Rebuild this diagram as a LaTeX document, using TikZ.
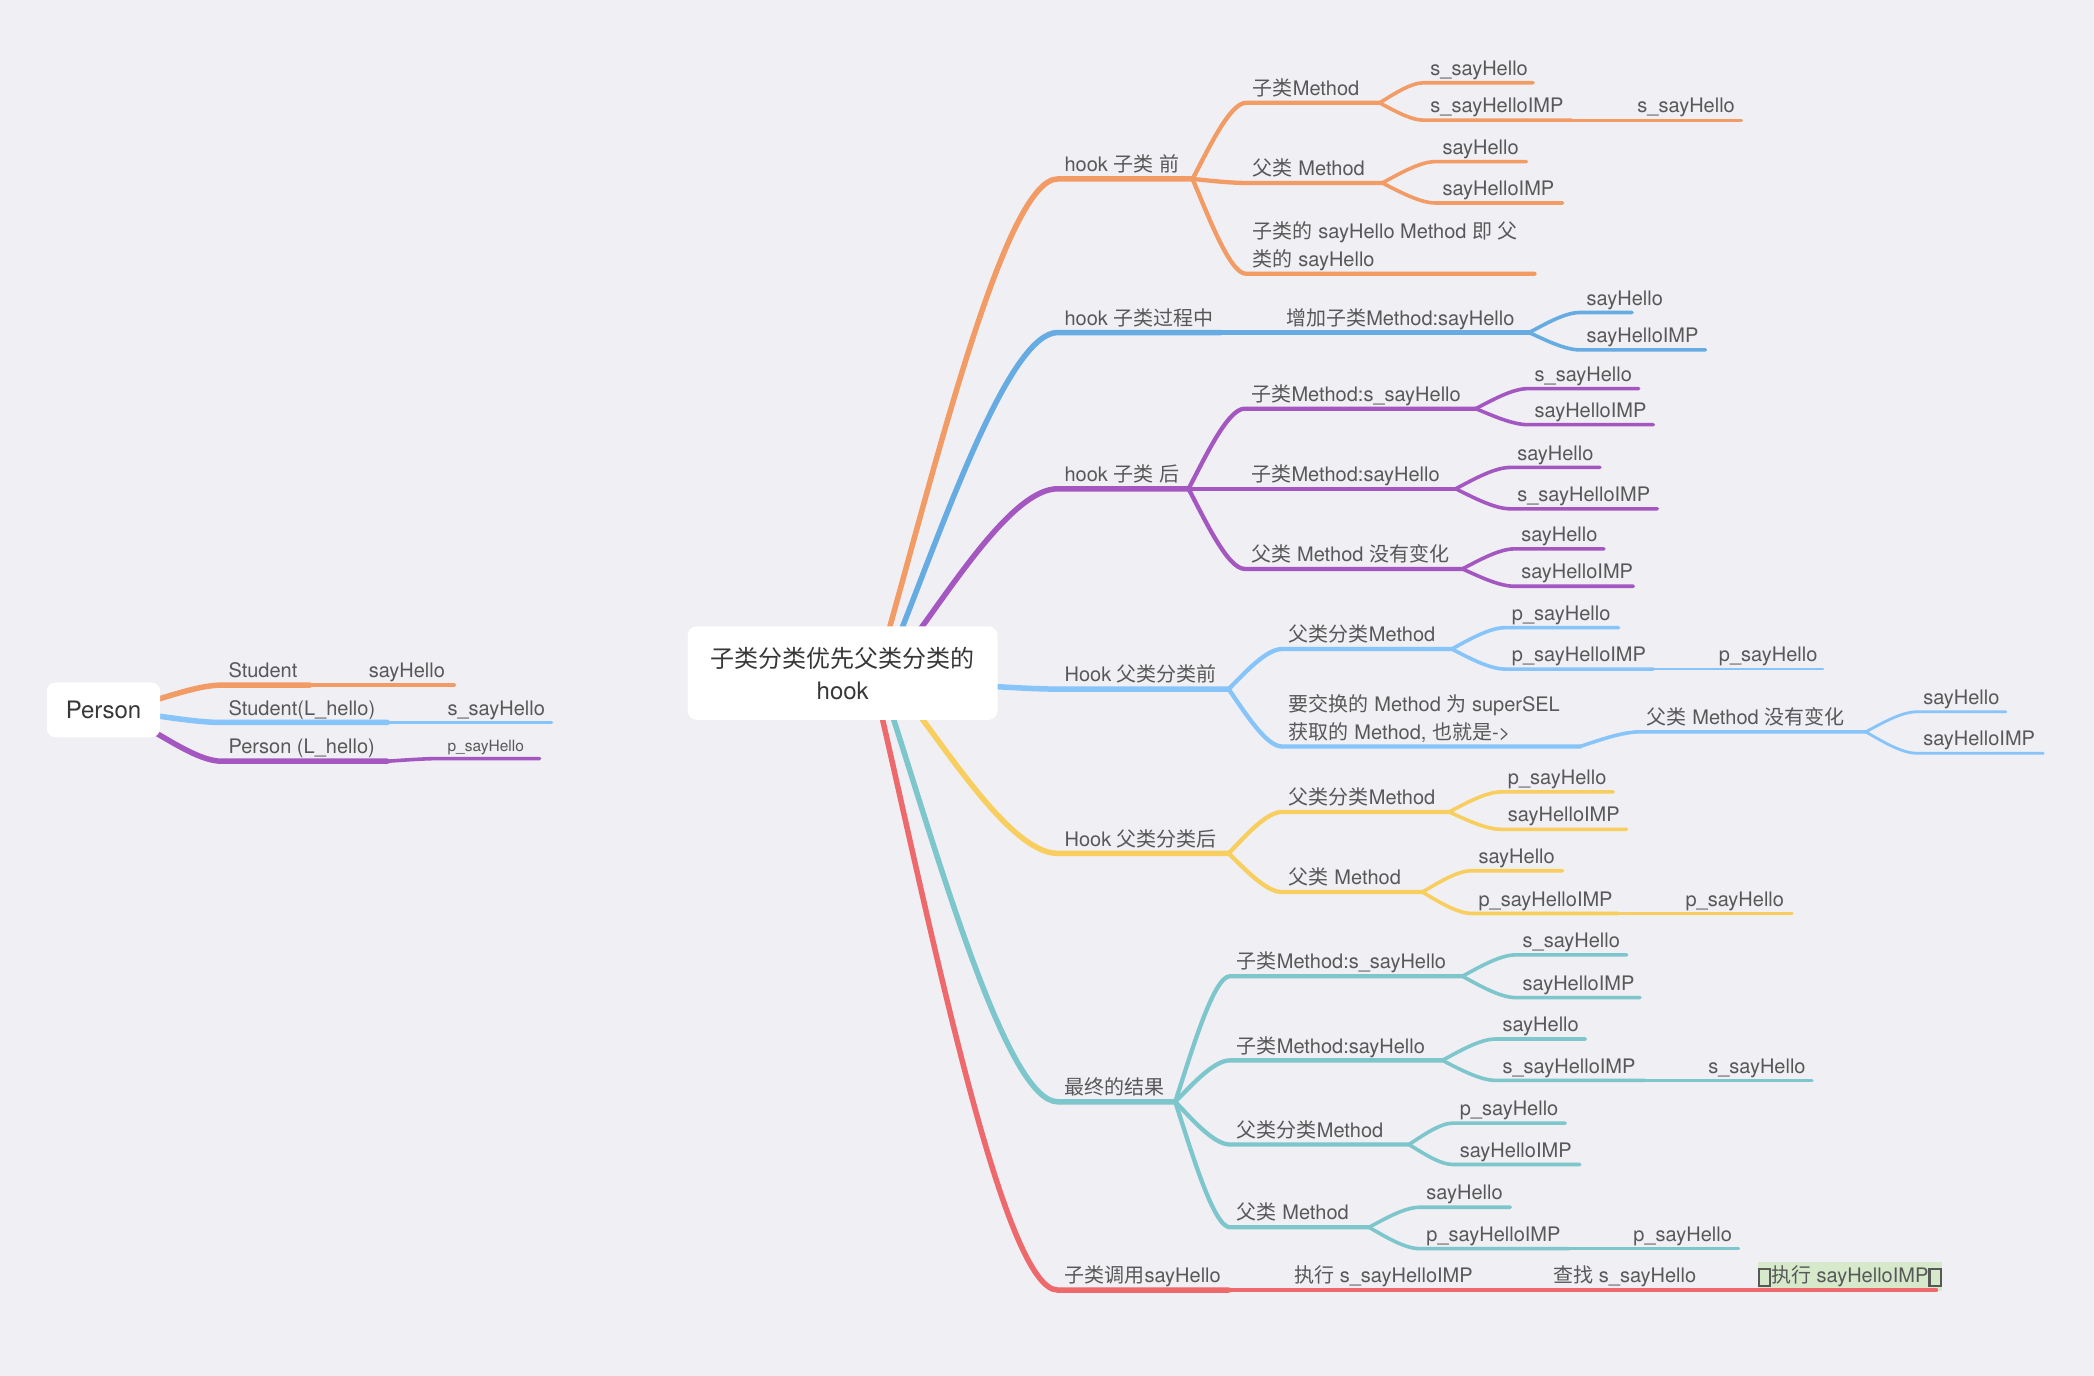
\documentclass[tikz,border=0pt]{standalone}
\usepackage{fontspec}
\setmainfont{TeX Gyre Heros}
\newfontfamily\cjk{Noto Sans CJK SC}
\makeatletter
\count@="3000
\loop \XeTeXcharclass\count@=7 \ifnum\count@<"303F \advance\count@ 1 \repeat
\count@="4E00
\loop \XeTeXcharclass\count@=7 \ifnum\count@<"9FFF \advance\count@ 1 \repeat
\count@="FF00
\loop \XeTeXcharclass\count@=7 \ifnum\count@<"FFEF \advance\count@ 1 \repeat
\makeatother
\XeTeXinterchartokenstate=1
\XeTeXinterchartoks 0 7 = {\begingroup\cjk}
\XeTeXinterchartoks 4095 7 = {\begingroup\cjk}
\XeTeXinterchartoks 7 0 = {\endgroup}
\XeTeXinterchartoks 7 4095 = {\endgroup}
\usetikzlibrary{calc}
\definecolor{mmbg}{RGB}{239,239,244}
\definecolor{mmtext}{RGB}{88,88,88}
\definecolor{mmroot}{RGB}{55,55,55}
\definecolor{mmorange}{RGB}{242,155,100}
\definecolor{mmblue}{RGB}{102,172,226}
\definecolor{mmpurple}{RGB}{164,87,192}
\definecolor{mmlblue}{RGB}{134,196,250}
\definecolor{mmyellow}{RGB}{248,206,94}
\definecolor{mmteal}{RGB}{125,198,204}
\definecolor{mmred}{RGB}{238,105,108}
\definecolor{mmgreen}{RGB}{214,233,203}
\newcommand\tofubox{{\setlength\fboxsep{0pt}\setlength\fboxrule{2.2pt}\raisebox{-2pt}{\fbox{\rule{0pt}{15pt}\hspace{9pt}}}}}
\tikzset{
  lbl/.style={anchor=base west, inner sep=0pt, text=mmtext, font=\fontsize{20}{28}\selectfont},
  w1/.style={line width=5.5pt},
  w2/.style={line width=4.3pt},
  w3/.style={line width=3.6pt},
  w4/.style={line width=2.8pt},
  mmcurve/.style={to path={let \p1=(\tikztostart), \p2=(\tikztotarget) in
     .. controls ({\x1+0.3*(\x2-\x1)},{\y1+0.4*(\y2-\y1)}) and ({\x1+0.7*(\x2-\x1)},{\y2}) .. (\tikztotarget)}},
  rootbox/.style={fill=white, rounded corners=9pt, inner sep=0pt, align=center, text=mmroot},
}
% name, parent, colour, width style, label x, line y, line end x, text, extra node options
\newcommand\mmn[9]{%
  \coordinate (#1-s) at ({#5-5},{#6});
  \coordinate (#1-e) at ({#7},{#6});
  \node[lbl,#9] (#1) at ({#5},{#6-5.5}) {#8};
  \draw[#3,#4] (#2) to[mmcurve] (#1-s) -- (#1-e);
}
\begin{document}
\begin{tikzpicture}[x=1.3355pt,y=-1.3355pt,line cap=round]
\fill[mmbg] (0,0) rectangle (1568,1030);
\useasboundingbox (0,0) rectangle (1568,1030);

\coordinate (ro) at (665,474);
\coordinate (rb) at (674,474);
\coordinate (rp) at (687,474);
\coordinate (rl) at (743,514);
\coordinate (ry) at (688,535);
\coordinate (rt) at (668,535);
\coordinate (rr) at (660,535);
\coordinate (pe1) at (117,524);
\coordinate (pe2) at (117,536);
\coordinate (pe3) at (117,549);

% Person
\mmn{pa}{pe1}{mmorange}{w1}{171}{513}{232}{Student}{}
\mmn{pa2}{pa-e}{mmorange}{w3}{276}{513}{340}{sayHello}{}
\mmn{pb}{pe2}{mmlblue}{w1}{171}{541}{290}{Student(L\_hello)}{}
\mmn{pb2}{pb-e}{mmlblue}{w3}{335}{541}{413}{s\_sayHello}{}
\mmn{pc}{pe3}{mmpurple}{w1}{171}{570}{290}{Person (L\_hello)}{}
\mmn{pc2}{pc-e}{mmpurple}{w3}{335}{568}{404}{p\_sayHello}{font=\fontsize{15.5}{20}\selectfont}

% level 1
\mmn{o1}{ro}{mmorange}{w1}{797}{134}{893}{hook 子类 前}{}
\mmn{b1}{rb}{mmblue}{w1}{797}{249}{914}{hook 子类过程中}{}
\mmn{p1}{rp}{mmpurple}{w1}{797}{366}{890}{hook 子类 后}{}
\mmn{l1}{rl}{mmlblue}{w1}{797}{516}{920}{Hook 父类分类前}{}
\mmn{y1}{ry}{mmyellow}{w1}{797}{639}{920}{Hook 父类分类后}{}
\mmn{t1}{rt}{mmteal}{w1}{797}{825}{880}{最终的结果}{}
\mmn{r1}{rr}{mmred}{w1}{797}{966}{920}{子类调用sayHello}{}

% orange
\mmn{o2a}{o1-e}{mmorange}{w2}{938}{77}{1033}{子类Method}{}
\mmn{o3a}{o2a-e}{mmorange}{w3}{1071}{62}{1148}{s\_sayHello}{}
\mmn{o3b}{o2a-e}{mmorange}{w3}{1071}{90}{1177}{s\_sayHelloIMP}{}
\mmn{o4b}{o3b-e}{mmorange}{w4}{1226}{90}{1304}{s\_sayHello}{}
\mmn{o2b}{o1-e}{mmorange}{w2}{938}{137}{1035}{父类 Method}{}
\mmn{o3c}{o2b-e}{mmorange}{w3}{1080}{121}{1143}{sayHello}{}
\mmn{o3d}{o2b-e}{mmorange}{w3}{1080}{152}{1170}{sayHelloIMP}{}
\mmn{o2c}{o1-e}{mmorange}{w2}{938}{205}{1149}{\begin{tabular}[b]{@{}l@{}}子类的 sayHello Method 即 父\\类的 sayHello\end{tabular}}{}

% blue
\mmn{b2}{b1-e}{mmblue}{w2}{963}{249}{1145}{增加子类Method:sayHello}{}
\mmn{b3a}{b2-e}{mmblue}{w3}{1188}{234}{1222}{sayHello}{}
\mmn{b3b}{b2-e}{mmblue}{w3}{1188}{262}{1277}{sayHelloIMP}{}

% purple
\mmn{p2a}{p1-e}{mmpurple}{w2}{937}{306}{1105}{子类Method:s\_sayHello}{}
\mmn{p3a}{p2a-e}{mmpurple}{w3}{1149}{291}{1227}{s\_sayHello}{}
\mmn{p3b}{p2a-e}{mmpurple}{w3}{1149}{318}{1238}{sayHelloIMP}{}
\mmn{p2b}{p1-e}{mmpurple}{w2}{937}{366}{1090}{子类Method:sayHello}{}
\mmn{p3c}{p2b-e}{mmpurple}{w3}{1136}{350}{1198}{sayHello}{}
\mmn{p3d}{p2b-e}{mmpurple}{w3}{1136}{381}{1241}{s\_sayHelloIMP}{}
\mmn{p2c}{p1-e}{mmpurple}{w2}{937}{426}{1095}{父类 Method 没有变化}{}
\mmn{p3e}{p2c-e}{mmpurple}{w3}{1139}{411}{1201}{sayHello}{}
\mmn{p3f}{p2c-e}{mmpurple}{w3}{1139}{439}{1223}{sayHelloIMP}{}

% light blue
\mmn{l2a}{l1-e}{mmlblue}{w2}{965}{486}{1087}{父类分类Method}{}
\mmn{l3a}{l2a-e}{mmlblue}{w3}{1132}{470}{1212}{p\_sayHello}{}
\mmn{l3b}{l2a-e}{mmlblue}{w3}{1132}{501}{1238}{p\_sayHelloIMP}{}
\mmn{l4b}{l3b-e}{mmlblue}{w4}{1287}{501}{1365}{p\_sayHello}{}
\mmn{l2b}{l1-e}{mmlblue}{w2}{965}{559}{1183}{\begin{tabular}[b]{@{}l@{}}要交换的 Method 为 superSEL\\获取的 Method, 也就是->\end{tabular}}{}
\mmn{l3c}{l2b-e}{mmlblue}{w3}{1233}{548}{1397}{父类 Method 没有变化}{}
\mmn{l4c}{l3c-e}{mmlblue}{w4}{1440}{533}{1502}{sayHello}{}
\mmn{l4d}{l3c-e}{mmlblue}{w4}{1440}{564}{1530}{sayHelloIMP}{}

% yellow
\mmn{y2a}{y1-e}{mmyellow}{w2}{965}{608}{1085}{父类分类Method}{}
\mmn{y3a}{y2a-e}{mmyellow}{w3}{1129}{593}{1208}{p\_sayHello}{}
\mmn{y3b}{y2a-e}{mmyellow}{w3}{1129}{621}{1218}{sayHelloIMP}{}
\mmn{y2b}{y1-e}{mmyellow}{w2}{965}{668}{1065}{父类 Method}{}
\mmn{y3c}{y2b-e}{mmyellow}{w3}{1107}{652}{1170}{sayHello}{}
\mmn{y3d}{y2b-e}{mmyellow}{w3}{1107}{684}{1212}{p\_sayHelloIMP}{}
\mmn{y4d}{y3d-e}{mmyellow}{w4}{1262}{684}{1342}{p\_sayHello}{}

% teal
\mmn{t2a}{t1-e}{mmteal}{w2}{926}{731}{1095}{子类Method:s\_sayHello}{}
\mmn{t3a}{t2a-e}{mmteal}{w3}{1140}{715}{1218}{s\_sayHello}{}
\mmn{t3b}{t2a-e}{mmteal}{w3}{1140}{747}{1228}{sayHelloIMP}{}
\mmn{t2b}{t1-e}{mmteal}{w2}{926}{794}{1080}{子类Method:sayHello}{}
\mmn{t3c}{t2b-e}{mmteal}{w3}{1125}{778}{1187}{sayHello}{}
\mmn{t3d}{t2b-e}{mmteal}{w3}{1125}{809}{1232}{s\_sayHelloIMP}{}
\mmn{t4d}{t3d-e}{mmteal}{w4}{1279}{809}{1357}{s\_sayHello}{}
\mmn{t2c}{t1-e}{mmteal}{w2}{926}{857}{1055}{父类分类Method}{}
\mmn{t3e}{t2c-e}{mmteal}{w3}{1093}{841}{1172}{p\_sayHello}{}
\mmn{t3f}{t2c-e}{mmteal}{w3}{1093}{872}{1183}{sayHelloIMP}{}
\mmn{t2d}{t1-e}{mmteal}{w2}{926}{919}{1025}{父类 Method}{}
\mmn{t3g}{t2d-e}{mmteal}{w3}{1068}{904}{1131}{sayHello}{}
\mmn{t3h}{t2d-e}{mmteal}{w3}{1068}{935}{1175}{p\_sayHelloIMP}{}
\mmn{t4h}{t3h-e}{mmteal}{w4}{1223}{935}{1302}{p\_sayHello}{}

% red
\mmn{r2}{r1-e}{mmred}{w2}{969}{966}{1115}{执行 s\_sayHelloIMP}{}
\mmn{r3}{r2-e}{mmred}{w3}{1163}{966}{1277}{查找 s\_sayHello}{}
\mmn{r4}{r3-e}{mmred}{w3}{1316}{966}{1450}{\tofubox 执行 sayHelloIMP\tofubox}{fill=mmgreen, inner ysep=4pt}

% central nodes
\node[rootbox, minimum width=310pt, minimum height=93.5pt, font=\fontsize{24}{32}\selectfont] (root) at (631,504) {子类分类优先父类分类的\\hook};
\node[rootbox, minimum width=113.5pt, minimum height=55pt, font=\fontsize{24}{28}\selectfont] (person) at (77.5,531.5) {Person};
\end{tikzpicture}
\end{document}
